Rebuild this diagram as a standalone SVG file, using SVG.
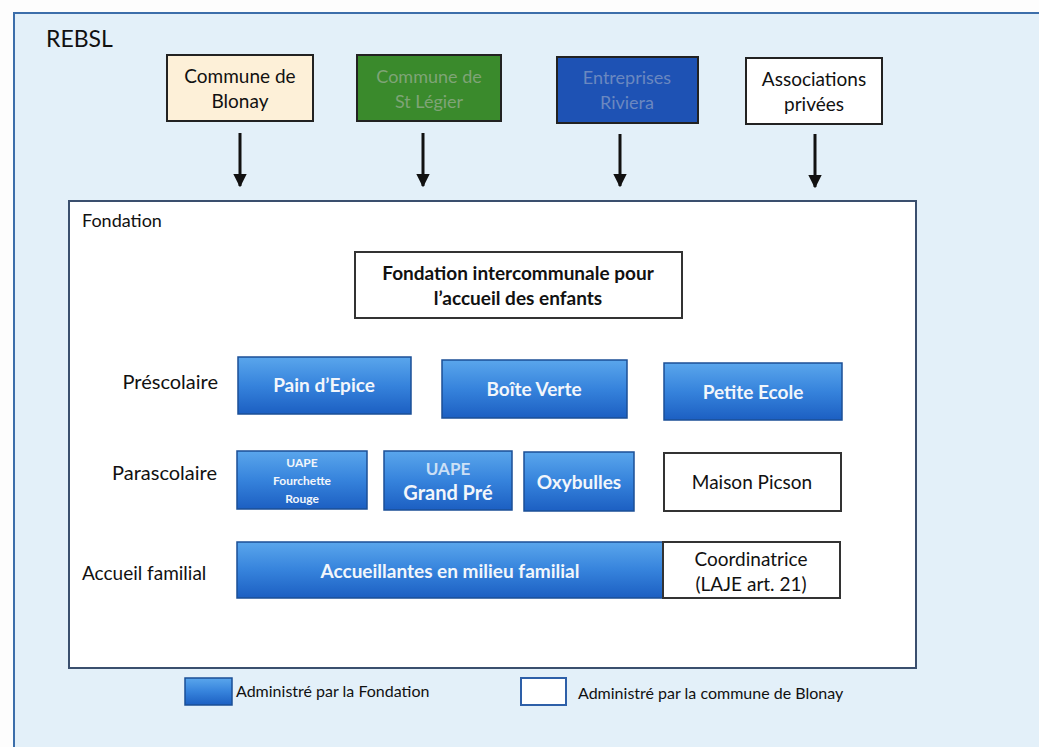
<svg xmlns="http://www.w3.org/2000/svg" width="1039" height="747" viewBox="0 0 1039 747">
<defs>
<linearGradient id="bg" x1="0" y1="0" x2="0" y2="1">
<stop offset="0" stop-color="#5aa6ec"/>
<stop offset="0.5" stop-color="#3683dc"/>
<stop offset="1" stop-color="#1c5fc2"/>
</linearGradient>
<marker id="ah" viewBox="0 0 10 10" refX="9" refY="5" markerWidth="4.5" markerHeight="4.5" orient="auto" markerUnits="strokeWidth">
<path d="M0,0 L10,5 L0,10 z" fill="#111"/>
</marker>
<style>
text{font-family:Lato,"Liberation Sans",sans-serif;}
.dark{fill:#111;}
.wt{fill:#f2f6fb;font-weight:bold;}
.blue{fill:url(#bg);stroke:#1b4f96;stroke-width:1.5;}
.white{fill:#fff;stroke:#333;stroke-width:2;}
.arr{stroke:#111;stroke-width:3;fill:none;marker-end:url(#ah);}
</style>
</defs>
<rect x="0" y="0" width="1039" height="747" fill="#fdfdfd"/>
<rect x="14" y="13" width="1040" height="750" fill="#e3f0f9" stroke="#3c6eaa" stroke-width="2"/>
<text x="46" y="47" font-size="23" class="dark">REBSL</text>

<g id="blonay">
<rect x="167" y="55" width="146" height="66" fill="#fdf0d8" stroke="#222" stroke-width="2"/>
<text x="240" y="83" font-size="19" text-anchor="middle" class="dark">Commune de</text>
<text x="240" y="108" font-size="19" text-anchor="middle" class="dark">Blonay</text>
</g>
<g id="stlegier">
<rect x="357" y="55" width="144" height="66" fill="#3a8a2c" stroke="#222" stroke-width="2"/>
<text x="429" y="83" font-size="18" text-anchor="middle" fill="#7fa477">Commune de</text>
<text x="429" y="108" font-size="18" text-anchor="middle" fill="#7fa477">St Légier</text>
</g>
<g id="entreprises">
<rect x="557" y="57" width="141" height="66" fill="#1e52b4" stroke="#222" stroke-width="2"/>
<text x="627" y="84" font-size="18" text-anchor="middle" fill="#6b88c0">Entreprises</text>
<text x="627" y="109" font-size="18" text-anchor="middle" fill="#6b88c0">Riviera</text>
</g>
<g id="associations">
<rect x="746" y="58" width="136" height="66" fill="#fff" stroke="#222" stroke-width="2"/>
<text x="814" y="86" font-size="19" text-anchor="middle" class="dark">Associations</text>
<text x="814" y="111" font-size="19" text-anchor="middle" class="dark">privées</text>
</g>

<g id="connectors">
<line x1="240" y1="133" x2="240" y2="186" class="arr"/>
<line x1="423" y1="133" x2="423" y2="186" class="arr"/>
<line x1="620" y1="134" x2="620" y2="186" class="arr"/>
<line x1="815" y1="134" x2="815" y2="187" class="arr"/>
</g>

<g id="fondation">
<rect x="69" y="201" width="847" height="467" fill="#fff" stroke="#3a4f6e" stroke-width="2"/>
<text x="82" y="227" font-size="18" class="dark">Fondation</text>
</g>
<g id="fic">
<rect x="355" y="252" width="327" height="66" class="white"/>
<text x="518" y="280" font-size="19" font-weight="bold" text-anchor="middle" class="dark">Fondation intercommunale pour</text>
<text x="518" y="305" font-size="19" font-weight="bold" text-anchor="middle" class="dark">l’accueil des enfants</text>
</g>

<text x="218" y="389" font-size="20" text-anchor="end" class="dark">Préscolaire</text>
<text x="217" y="480" font-size="20" text-anchor="end" class="dark">Parascolaire</text>
<text x="82" y="580" font-size="19" class="dark">Accueil familial</text>

<g id="painepice">
<rect x="238" y="357" width="173" height="57" class="blue"/>
<text x="324" y="392" font-size="19" text-anchor="middle" class="wt">Pain d’Epice</text>
</g>
<g id="boiteverte">
<rect x="442" y="360" width="185" height="58" class="blue"/>
<text x="534" y="396" font-size="19" text-anchor="middle" class="wt">Boîte Verte</text>
</g>
<g id="petiteecole">
<rect x="664" y="363" width="178" height="57" class="blue"/>
<text x="753" y="399" font-size="19" text-anchor="middle" class="wt">Petite Ecole</text>
</g>

<g id="fourchette">
<rect x="237" y="451" width="130" height="58" class="blue"/>
<text x="302" y="467" font-size="12" text-anchor="middle" class="wt">UAPE</text>
<text x="302" y="485" font-size="12" text-anchor="middle" class="wt">Fourchette</text>
<text x="302" y="503" font-size="12" text-anchor="middle" class="wt">Rouge</text>
</g>
<g id="grandpre">
<rect x="384" y="451" width="128" height="59" class="blue"/>
<text x="448" y="475" font-size="17" text-anchor="middle" class="wt" fill-opacity="0.8">UAPE</text>
<text x="448" y="500" font-size="20" text-anchor="middle" class="wt">Grand Pré</text>
</g>
<g id="oxybulles">
<rect x="524" y="452" width="110" height="59" class="blue"/>
<text x="579" y="489" font-size="19" text-anchor="middle" class="wt">Oxybulles</text>
</g>
<g id="picson">
<rect x="664" y="453" width="177" height="58" class="white"/>
<text x="752" y="489" font-size="19" text-anchor="middle" class="dark">Maison Picson</text>
</g>

<g id="accueillantes">
<rect x="237" y="542" width="426" height="56" class="blue"/>
<text x="450" y="578" font-size="19" text-anchor="middle" class="wt">Accueillantes en milieu familial</text>
</g>
<g id="coordinatrice">
<rect x="663" y="542" width="177" height="56" class="white"/>
<text x="751" y="566" font-size="19" text-anchor="middle" class="dark">Coordinatrice</text>
<text x="751" y="591" font-size="19" text-anchor="middle" class="dark">(LAJE art. 21)</text>
</g>

<g id="legend">
<rect x="185" y="678" width="47" height="27" class="blue"/>
<text x="236" y="697" font-size="16" class="dark">Administré par la Fondation</text>
<rect x="521" y="678" width="45" height="27" fill="#fff" stroke="#2d5fa8" stroke-width="2"/>
<text x="578" y="699" font-size="16" class="dark">Administré par la commune de Blonay</text>
</g>
</svg>
